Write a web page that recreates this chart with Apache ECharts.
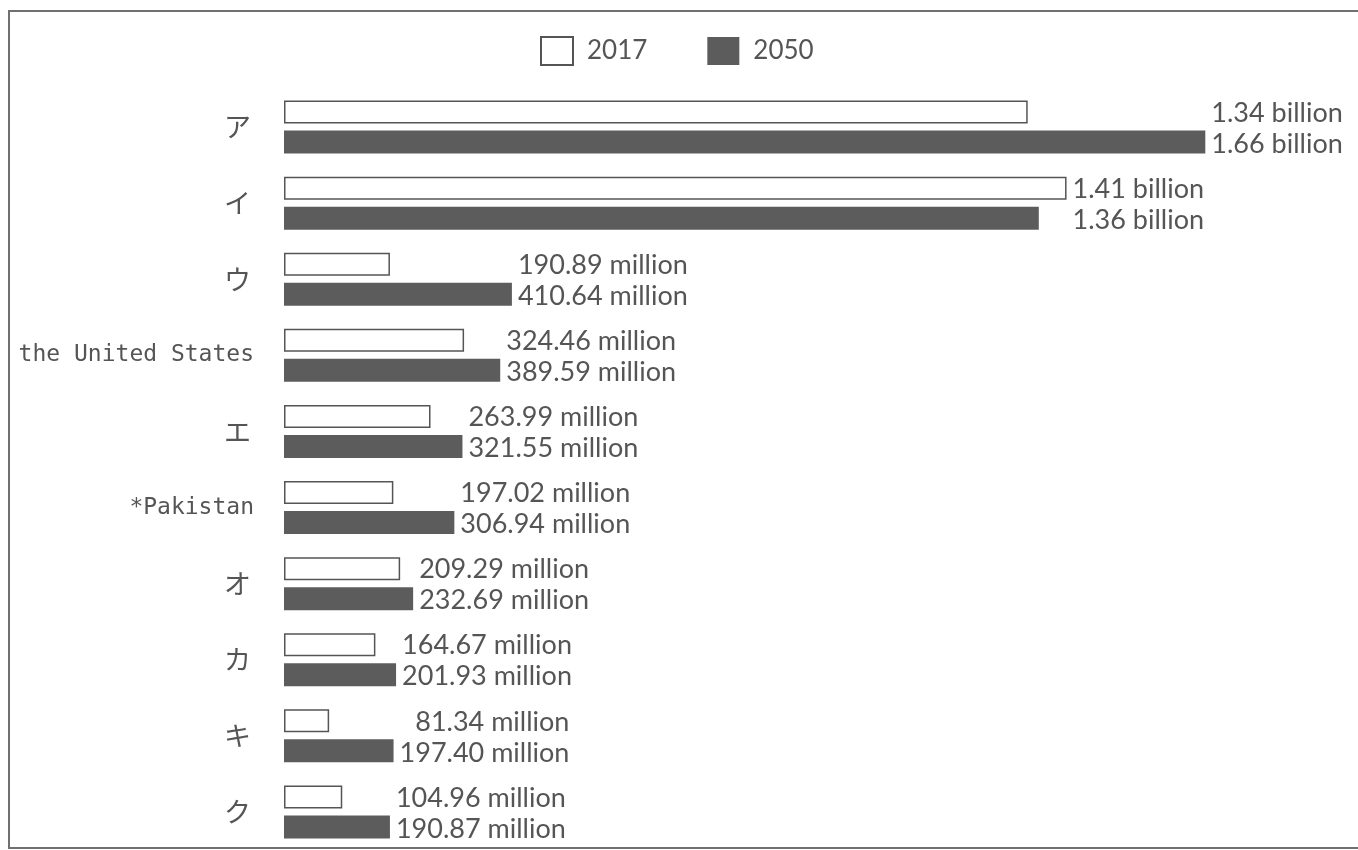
<!DOCTYPE html>
<html>
<head>
<meta charset="utf-8">
<script src="https://cdn.jsdelivr.net/npm/echarts@6/dist/echarts.min.js"></script>
<style>
  html, body { margin: 0; padding: 0; background: #ffffff; }
  #chart { width: 1358px; height: 850px; }
</style>
</head>
<body>
<div id="chart"></div>
<script>
// Population by country, in millions
const categories = ['ア', 'イ', 'ウ', 'the United States', 'エ', '*Pakistan', 'オ', 'カ', 'キ', 'ク'];
const seriesNames = ['2017', '2050'];
const pop2017 = [1340, 1410, 190.89, 324.46, 263.99, 197.02, 209.29, 164.67, 81.34, 104.96];
const pop2050 = [1660, 1360, 410.64, 389.59, 321.55, 306.94, 232.69, 201.93, 197.40, 190.87];

const TEXT = '#555555';
const DARK = '#5c5c5c';
const LABEL_SIZE = 27;
const LABEL_FAMILY = 'Lato';
const BAR_W = 23;
const BAR_GAP = 7;

function fmt(v) {
  return v >= 1000 ? (v / 1000).toFixed(2) + ' billion' : v.toFixed(2) + ' million';
}

const measureCtx = document.createElement('canvas').getContext('2d');
measureCtx.font = LABEL_SIZE + 'px ' + LABEL_FAMILY;
function textWidth(s) { return measureCtx.measureText(s).width; }

// value labels: both labels of a country share one right edge,
// just past the longer of its two bars
function renderLabels(params, api) {
  const cat = api.value(0);
  const a = api.value(1);
  const b = api.value(2);
  const end = api.coord([Math.max(a, b), cat]);
  const ta = fmt(a), tb = fmt(b);
  const right = end[0] + 6 + Math.max(textWidth(ta), textWidth(tb));
  const off = (BAR_W + BAR_GAP) / 2;
  const mk = (t, y) => ({
    type: 'text',
    style: {
      text: t, x: right, y: y,
      align: 'right', verticalAlign: 'middle',
      fontSize: LABEL_SIZE, fontFamily: LABEL_FAMILY, fill: TEXT
    }
  });
  return { type: 'group', children: [mk(ta, end[1] - off + 1), mk(tb, end[1] + off + 2)] };
}

const chart = echarts.init(document.getElementById('chart'));
chart.setOption({
  animation: false,
  backgroundColor: '#ffffff',
  graphic: [{
    type: 'rect', silent: true,
    shape: { x: 9, y: 11, width: 1400, height: 837 },
    style: { fill: 'none', stroke: '#707070', lineWidth: 2 }
  }],
  legend: {
    data: seriesNames,
    left: 535, top: 31,
    icon: 'rect',
    itemWidth: 32, itemHeight: 28, itemGap: 60,
    textStyle: { fontSize: 26, fontFamily: LABEL_FAMILY, color: TEXT, padding: [0, 0, 0, 9] }
  },
  grid: { left: 284, right: 75, top: 89, bottom: -4 },
  xAxis: {
    type: 'value', min: 0, max: 1800,
    axisLine: { show: false }, axisTick: { show: false },
    axisLabel: { show: false }, splitLine: { show: false }
  },
  yAxis: {
    type: 'category', data: categories, inverse: true,
    axisLine: { show: false }, axisTick: { show: false },
    axisLabel: {
      margin: 30, color: TEXT,
      formatter: (name) => name.length === 1 ? '{kana|' + name + '}' : '{latin|' + name + '}',
      rich: {
        kana: { fontSize: 27, color: TEXT, fontFamily: "'Noto Sans CJK JP'", padding: [0, 3, 0, 0] },
        latin: { fontSize: 23, color: TEXT, fontFamily: "'DejaVu Sans Mono'" }
      }
    }
  },
  series: [
    {
      name: seriesNames[0], type: 'bar', data: pop2017,
      barWidth: BAR_W, barGap: (BAR_GAP / BAR_W * 100) + '%',
      itemStyle: { color: '#ffffff', borderColor: '#555555', borderWidth: 1.5 }
    },
    {
      name: seriesNames[1], type: 'bar', data: pop2050,
      barWidth: BAR_W,
      itemStyle: { color: DARK }
    },
    {
      type: 'custom', silent: true, z: 10,
      data: categories.map((c, i) => [i, pop2017[i], pop2050[i]]),
      encode: { y: 0, x: [1, 2] },
      renderItem: renderLabels
    }
  ]
});
</script>
</body>
</html>
